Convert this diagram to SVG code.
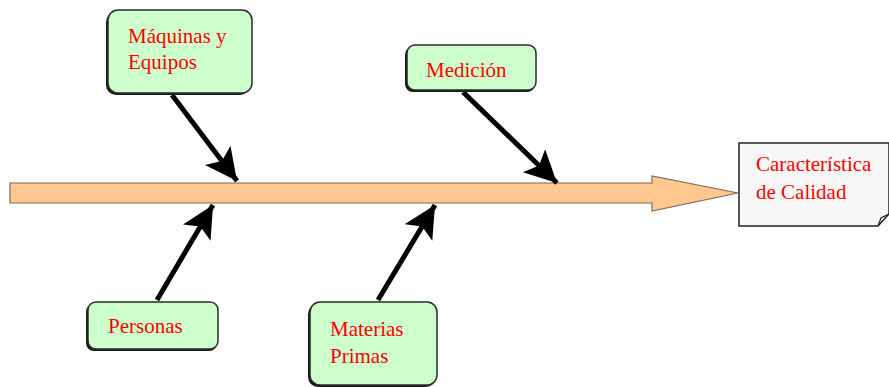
<svg xmlns="http://www.w3.org/2000/svg" width="889" height="387" viewBox="0 0 889 387">
  <style>
    .box { fill: #ccffcc; stroke: #2a2a2a; stroke-width: 1.5; }
    .shadow { fill: #1a1a1a; }
    .lbl { font-family: "Liberation Serif", "Times New Roman", serif; font-size: 21px; fill: #ff0000; }
    .cause { stroke: #000; stroke-width: 5; fill: none; marker-end: url(#head); }
  </style>
  <defs>
    <marker id="head" markerUnits="userSpaceOnUse" markerWidth="36" markerHeight="34" refX="32" refY="16" orient="auto">
      <path d="M0,0 L32,16 L0,32 L7,16 Z" fill="#000"/>
    </marker>
  </defs>

  <rect width="889" height="387" fill="#ffffff"/>

  <!-- spine -->
  <g id="spine">
    <path d="M10,183 L652,183 L652,176 L738,193 L652,211 L652,203 L10,203 Z" fill="#ffc890" stroke="#7a6a5a" stroke-width="1.2"/>
  </g>

  <!-- cause connectors -->
  <g id="connectors">
    <line class="cause" x1="172" y1="95" x2="237" y2="181"/>
    <line class="cause" x1="463" y1="92" x2="557" y2="183"/>
    <line class="cause" x1="157" y1="300" x2="213" y2="205"/>
    <line class="cause" x1="378" y1="300" x2="435" y2="205"/>
  </g>

  <g id="maquinas">
    <rect class="shadow" x="106" y="12" width="144" height="83" rx="10"/>
    <rect class="box" x="108" y="10" width="144" height="83" rx="10"/>
    <text class="lbl" x="128" y="43">Máquinas y</text>
    <text class="lbl" x="128" y="69">Equipos</text>
  </g>

  <g id="medicion">
    <rect class="shadow" x="405" y="47" width="130" height="45" rx="8"/>
    <rect class="box" x="407" y="45" width="129" height="45" rx="8"/>
    <text class="lbl" x="426" y="77">Medición</text>
  </g>

  <g id="personas">
    <rect class="shadow" x="86" y="304" width="131" height="47" rx="8"/>
    <rect class="box" x="88" y="302" width="130" height="47" rx="8"/>
    <text class="lbl" x="108" y="333">Personas</text>
  </g>

  <g id="materias">
    <rect class="shadow" x="308" y="304" width="128" height="83" rx="10"/>
    <rect class="box" x="310" y="302" width="127" height="83" rx="10"/>
    <text class="lbl" x="330" y="336">Materias</text>
    <text class="lbl" x="330" y="363">Primas</text>
  </g>

  <g id="caracteristica">
    <path d="M739,143 L889,143 L889,214 L878,226 L739,226 Z" fill="#f7f7f7" stroke="#222" stroke-width="1.5"/>
    <path d="M878,226 L881,218 L889,214" fill="none" stroke="#222" stroke-width="1.2"/>
    <text class="lbl" x="756" y="171">Característica</text>
    <text class="lbl" x="756" y="199">de Calidad</text>
  </g>
</svg>
